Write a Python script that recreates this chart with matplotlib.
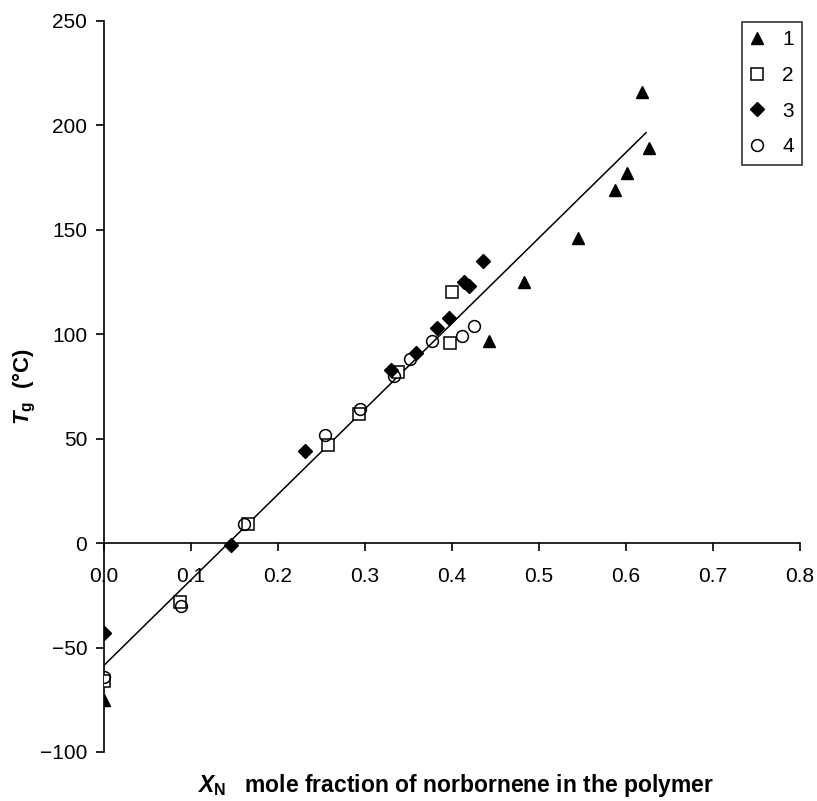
import numpy as np
import matplotlib
matplotlib.use("Agg")
from matplotlib import pyplot as plt

plt.rcParams['font.family'] = ['Liberation Sans', 'DejaVu Sans']
plt.rcParams['mathtext.fontset'] = 'custom'
plt.rcParams['mathtext.it'] = 'Liberation Sans:bold:italic'
plt.rcParams['mathtext.bf'] = 'Liberation Sans:bold'
plt.rcParams['mathtext.rm'] = 'Liberation Sans'

# series 1 - triangles
x1 = [0.0, 0.443, 0.483, 0.545, 0.587, 0.601, 0.618, 0.626]
y1 = [-75, 97, 125, 146, 169, 177, 216, 189]
# series 2 - open squares
x2 = [0.0, 0.087, 0.165, 0.258, 0.293, 0.338, 0.400, 0.398]
y2 = [-66, -28, 9, 47, 62, 82, 120, 96]
# series 3 - diamonds
x3 = [0.0, 0.146, 0.231, 0.330, 0.359, 0.383, 0.397, 0.414, 0.420, 0.436]
y3 = [-43, -1, 44, 83, 91, 103, 108, 125, 123, 135]
# series 4 - open circles
x4 = [0.0, 0.089, 0.161, 0.254, 0.294, 0.333, 0.352, 0.377, 0.412, 0.425]
y4 = [-64, -30, 9, 52, 64, 80, 88, 97, 99, 104]

# regression line end points
fit_x = [0.0, 0.623]
fit_y = [-58.5, 196.5]

xtick_labels = ['0.0', '0.1', '0.2', '0.3', '0.4', '0.5', '0.6', '0.7', '0.8']
ytick_labels = ['\u2212100', '\u221250', '0', '50', '100', '150', '200', '250']

fig = plt.figure(figsize=(8.17, 8.01), dpi=100)
ax = fig.add_axes([0.1273, 0.0612, 0.8519, 0.9126])

ax.plot(fit_x, fit_y, color='black', lw=1.1, zorder=2)
ax.plot(x1, y1, '^', ms=9, mfc='black', mec='black', ls='none', label='1', zorder=3)
ax.plot(x2, y2, 's', ms=8, mfc='white', mec='black', mew=1.1, ls='none', label='2', zorder=3)
ax.plot(x3, y3, 'D', ms=7, mfc='black', mec='black', ls='none', label='3', zorder=3)
ax.plot(x4, y4, 'o', ms=8.5, mfc='none', mec='black', mew=1.1, ls='none', label='4', zorder=3)

ax.set_xlim(0, 0.8)
ax.set_ylim(-100, 250)
ax.set_xticks(np.arange(0, 0.81, 0.1))
ax.set_xticklabels(xtick_labels)
ax.set_yticks(np.arange(-100, 251, 50))
ax.set_yticklabels(ytick_labels)

ax.spines['top'].set_visible(False)
ax.spines['right'].set_visible(False)
ax.spines['bottom'].set_position(('data', 0))
ax.spines['left'].set_linewidth(1.2)
ax.spines['bottom'].set_linewidth(1.2)
ax.tick_params(direction='out', length=6, width=1.2, labelsize=15, pad=6)
ax.tick_params(axis='x', pad=11)

leg = ax.legend(loc='upper right', bbox_to_anchor=(0.9816, 0.9725), bbox_transform=fig.transFigure,
                borderaxespad=0, frameon=True, fancybox=False, edgecolor='black', fontsize=15,
                handlelength=0.6, handletextpad=0.9, labelspacing=0.8, borderpad=0.4,
                markerscale=1.0)
leg.get_frame().set_linewidth(1.2)

fig.text(0.558, 0.019, r'$\mathit{X}_{\mathbf{N}}$   mole fraction of norbornene in the polymer',
         ha='center', va='center', fontsize=16.5, fontweight='bold')
fig.text(0.03, 0.517, r'$\mathit{T}_{\mathbf{g}}$  (°C)', rotation=90,
         ha='center', va='center', fontsize=16, fontweight='bold')

fig.savefig('out.png', dpi=100)
